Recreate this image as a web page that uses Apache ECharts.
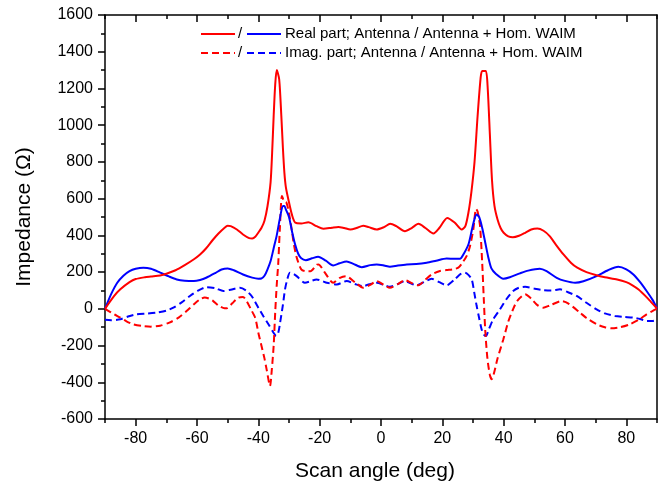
<!DOCTYPE html>
<html>
<head>
<meta charset="utf-8">
<script src="https://cdn.jsdelivr.net/npm/echarts@6/dist/echarts.min.js"></script>
<style>html,body{margin:0;padding:0;background:#fff;}#c{width:663px;height:487px;}</style>
</head>
<body>
<div id="c"></div>
<script>
// ---- Data ----
const realAntX = [-90,-87,-85,-82,-80,-77,-75,-72,-70,-67,-64,-61,-59,-57,-55,-53,-51,-50,-49,-47,-45,-43,-42,-41,-40,-39,-38,-37,-36,-35.5,-35,-34.5,-34,-33.2,-32.5,-32,-31.5,-31,-30,-29,-28,-26,-23.7,-21,-18.8,-16,-13.9,-12,-10,-8,-5.8,-4,-1.4,1,3,5,7.8,10,12.2,14.5,17.1,19,21.6,24,26.3,27.5,28.5,29.5,30.5,31.5,32.5,33,34.2,34.8,35.5,36.2,37,38,39,40,41.5,43,45,47,49,51,53,55,57,59.5,62,64,67,70,73,77,80,82,84,86.5,88,90];
const realAntY = [0,70,106,145,162,172,176,182,191,210,238,270,296,330,372,410,442,452,450,432,405,385,383,392,415,440,480,560,690,850,1050,1220,1300,1250,1050,880,740,660,580,510,470,465,471,450,436,442,446,440,432,440,453,445,432,445,463,450,423,440,463,440,410,440,495,470,432,450,523,640,800,1050,1260,1295,1295,1200,950,700,560,486,440,414,395,390,398,414,432,437,425,396,350,296,250,224,200,184,172,160,145,128,105,65,38,2];

const realWaimX = [-90,-88,-86,-84,-82,-80,-77.5,-75,-72,-69,-66.6,-64,-61,-59,-57,-54,-52,-50,-48,-45,-42,-40,-39,-38,-37,-36,-35,-34,-33,-32,-31.5,-31,-30,-29,-28,-27,-26,-24.5,-22.5,-20.5,-18,-15.6,-13.5,-11.2,-9,-6.3,-3.5,-1.4,1,2.9,5.5,8.4,11.5,14.9,18,21.4,24,25.8,27,28.5,29.5,30.5,31.2,32,33,34,35,36,37.5,39.9,42,45.3,48,51.8,54,57.3,60,63.3,66,70.3,74,77.4,80,82.3,84.5,86.6,88.5,90];
const realWaimY = [0,80,142,180,205,218,224,218,197,175,160,153,151,157,169,195,214,220,210,187,170,164,165,180,215,260,330,400,490,560,560,540,500,420,350,300,275,265,275,284,262,236,248,258,245,227,238,242,236,229,236,242,244,251,262,274,272,273,300,350,420,490,513,500,440,360,280,220,190,164,172,193,208,218,205,169,152,142,150,178,210,229,215,187,145,97,50,2];

const imagAntX = [-90,-87,-85,-83,-80.8,-78,-75,-72,-69,-66,-63.4,-61,-59,-57.5,-56,-54.7,-53,-51,-50,-48.5,-46.5,-45,-43.8,-42.5,-41,-40,-39,-38,-37.3,-36.2,-35.6,-35,-34.5,-34,-33.5,-33,-32.3,-31.6,-30.8,-30,-29,-28.5,-27.5,-26,-24.5,-23,-21,-20.4,-18.3,-15.6,-13.4,-11.5,-8.5,-5.8,-3.5,-1.4,1,2.9,5.5,7.8,10,12.2,14.5,16.5,19,21.4,23.5,25.2,26.5,27.9,29,30.1,31,31.5,32.3,33,33.5,34,34.7,35.5,36.1,37,38,39.9,41.5,43,44.5,47,49,51,52.9,55,58.9,61,64.9,67,70.3,73,75.2,78,81.2,84,86.6,88.5,90];
const imagAntY = [0,-30,-48,-68,-84,-93,-97,-92,-75,-48,-12,25,52,62,55,42,18,3,5,30,61,65,42,0,-50,-130,-200,-270,-330,-420,-330,-200,-20,130,250,430,615,585,577,520,420,360,280,215,205,205,240,242,197,142,169,178,145,115,130,151,130,115,135,156,140,128,160,187,205,211,215,224,250,287,340,432,544,530,450,250,60,-120,-270,-360,-383,-340,-270,-166,-70,-5,45,79,55,20,6,18,42,30,-21,-50,-84,-100,-106,-100,-84,-60,-30,-12,0];

const imagWaimX = [-90,-88,-85,-82.5,-79.7,-76,-73.2,-70,-67.7,-65,-62.3,-59.5,-56.8,-54,-51.4,-49,-46,-44,-42.2,-40,-38.4,-36.5,-35.1,-34.2,-33.5,-32.9,-32,-31.3,-30.5,-29.7,-28.5,-27.5,-24.8,-23,-21,-19,-17.7,-14.4,-11.2,-8.5,-5.8,-3.5,-1.4,1,2.9,5.5,7.8,9.5,11.6,14,16.5,19,21.4,24,26,27.4,28.5,29.6,30.5,31.2,32,32.8,33.5,34.2,35.2,36.6,38.8,41,43.1,45,47,50,52.9,55.5,58.4,61,63.8,67,70.3,73,76.3,79,82.3,84.5,86.6,88.5,90];
const imagWaimY = [-60,-62,-57,-42,-30,-26,-21,-10,6,35,70,100,118,112,97,104,115,100,70,6,-39,-90,-129,-148,-130,-75,20,106,165,197,190,178,142,150,160,150,142,133,151,135,124,135,142,130,120,135,151,140,128,145,164,145,128,160,190,197,185,160,80,15,-50,-111,-140,-148,-110,-57,-3,55,97,115,120,110,102,100,106,90,70,33,-3,-25,-39,-44,-48,-55,-66,-66,-61];

const xMajorTicks = [-80,-60,-40,-20,0,20,40,60,80];
const legendRow1 = 'Real part; Antenna / Antenna + Hom. WAIM';
const legendRow2 = 'Imag. part; Antenna / Antenna + Hom. WAIM';

// ---- Chart ----
const RED = '#ff0000', BLUE = '#0000ff';
const FONT = '"Liberation Sans", Arial, sans-serif';
const zip = (xs, ys) => xs.map((x, i) => [x, ys[i]]);

const chart = echarts.init(document.getElementById('c'), null, {renderer: 'canvas'});

const axisLine = {show: true, onZero: false, lineStyle: {color: '#000', width: 1.5}};
const noLine = {show: false, onZero: false};
const baseX = {type: 'value', min: -90, max: 90, interval: 10, splitLine: {show: false}};

const option = {
  animation: false,
  backgroundColor: '#fff',
  grid: {left: 105, top: 15, width: 552, height: 405, containLabel: false},
  xAxis: [
    Object.assign({}, baseX, {
      position: 'bottom',
      axisLine: axisLine,
      axisTick: {show: true, inside: false, length: 4, lineStyle: {color: '#000', width: 1.5}},
      axisLabel: {
        show: true, margin: 12, color: '#000', fontSize: 16, fontFamily: FONT,
        formatter: v => (xMajorTicks.indexOf(v) >= 0 ? String(v) : '')
      },
      name: 'Scan angle (deg)', nameLocation: 'middle', nameGap: 42,
      nameTextStyle: {fontSize: 21, color: '#000', fontFamily: FONT, padding: [0, 12, 0, 0]}
    }),
    Object.assign({}, baseX, {
      position: 'bottom',
      axisLine: noLine,
      axisTick: {show: true, inside: false, length: 7, customValues: xMajorTicks, lineStyle: {color: '#000', width: 1.5}},
      axisLabel: {show: false}
    }),
    Object.assign({}, baseX, {
      position: 'top',
      axisLine: axisLine,
      axisTick: {show: true, inside: true, length: 4, lineStyle: {color: '#000', width: 1.5}},
      axisLabel: {show: false}
    }),
    Object.assign({}, baseX, {
      position: 'top',
      axisLine: noLine,
      axisTick: {show: true, inside: true, length: 7, customValues: xMajorTicks, lineStyle: {color: '#000', width: 1.5}},
      axisLabel: {show: false}
    })
  ],
  yAxis: [
    {
      type: 'value', min: -600, max: 1600, interval: 200, position: 'left',
      axisLine: axisLine,
      axisTick: {show: true, inside: false, length: 7, lineStyle: {color: '#000', width: 1.5}},
      minorTick: {show: true, splitNumber: 2, length: 4, lineStyle: {color: '#000', width: 1.5}},
      splitLine: {show: false},
      axisLabel: {margin: 12, color: '#000', fontSize: 16, fontFamily: FONT, formatter: v => String(v)},
      name: 'Impedance (Ω)', nameLocation: 'middle', nameRotate: 90, nameGap: 70,
      nameTextStyle: {fontSize: 21, color: '#000', fontFamily: FONT}
    },
    {
      type: 'value', min: -600, max: 1600, interval: 200, position: 'right',
      axisLine: axisLine, axisTick: {show: false}, axisLabel: {show: false}, splitLine: {show: false}
    }
  ],
  series: [
    {name: 'Imag WAIM', type: 'line', data: zip(imagWaimX, imagWaimY), showSymbol: false, smooth: 0.25,
      lineStyle: {color: BLUE, width: 2, type: [7, 4]}},
    {name: 'Imag Antenna', type: 'line', data: zip(imagAntX, imagAntY), showSymbol: false, smooth: 0.25,
      lineStyle: {color: RED, width: 2, type: [7, 4]}},
    {name: 'Real WAIM', type: 'line', data: zip(realWaimX, realWaimY), showSymbol: false, smooth: 0.25,
      lineStyle: {color: BLUE, width: 2}},
    {name: 'Real Antenna', type: 'line', data: zip(realAntX, realAntY), showSymbol: false, smooth: 0.25,
      lineStyle: {color: RED, width: 2}}
  ],
  graphic: [
    {type: 'line', shape: {x1: 201, y1: 34, x2: 235, y2: 34}, style: {stroke: RED, lineWidth: 2}},
    {type: 'text', x: 238, y: 34, style: {text: '/', font: '15px ' + FONT, fill: '#000', verticalAlign: 'middle'}},
    {type: 'line', shape: {x1: 247, y1: 34, x2: 281, y2: 34}, style: {stroke: BLUE, lineWidth: 2}},
    {type: 'text', x: 285, y: 34, style: {text: legendRow1, font: '15px ' + FONT, fill: '#000', verticalAlign: 'middle'}},
    {type: 'line', shape: {x1: 201, y1: 53, x2: 235, y2: 53}, style: {stroke: RED, lineWidth: 2, lineDash: [7, 4]}},
    {type: 'text', x: 238, y: 53, style: {text: '/', font: '15px ' + FONT, fill: '#000', verticalAlign: 'middle'}},
    {type: 'line', shape: {x1: 247, y1: 53, x2: 281, y2: 53}, style: {stroke: BLUE, lineWidth: 2, lineDash: [7, 4]}},
    {type: 'text', x: 285, y: 53, style: {text: legendRow2, font: '15px ' + FONT, fill: '#000', verticalAlign: 'middle'}}
  ]
};
chart.setOption(option);
</script>
</body>
</html>
